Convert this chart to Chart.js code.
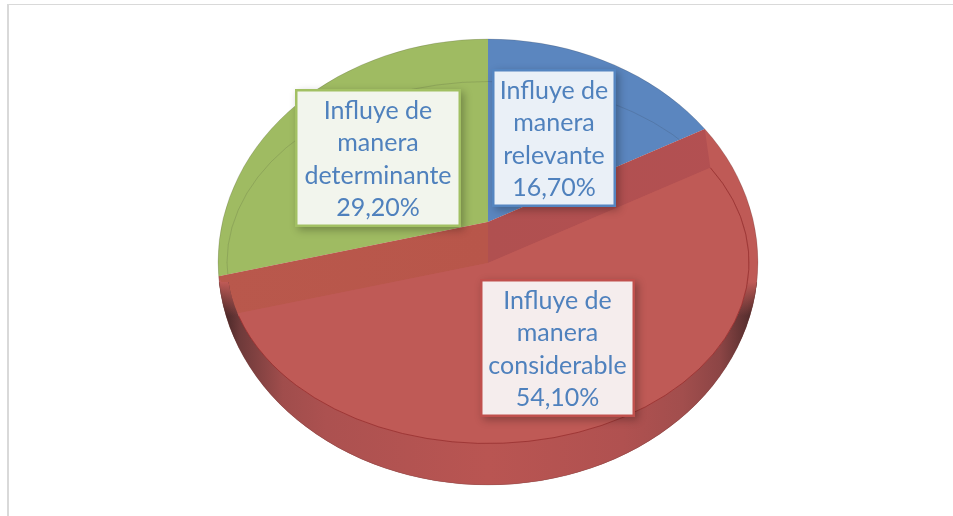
<!DOCTYPE html>
<html>
<head>
<meta charset="utf-8">
<script src="https://cdn.jsdelivr.net/npm/chart.js@4"></script>
<style>
    html, body { margin: 0; padding: 0; background: #fff; overflow: hidden; }
    #frame { position: absolute; left: 7px; top: 4px; right: 0; bottom: 0; border-left: 2px solid #d9d9d9; border-top: 1px solid #d9d9d9; }
    #chart { position: absolute; left: 0; top: 0; }
</style>
</head>
<body>
<div id="frame"></div>
<canvas id="chart" width="953" height="516"></canvas>
<script>
// Data
const categories = ['Influye de manera relevante', 'Influye de manera considerable', 'Influye de manera determinante'];
const values = [16.7, 54.1, 29.2];
const sliceColors = ['#5b86bf', '#bf5a56', '#9fbb62'];
const labelBorders = ['#5585c0', '#c0504d', '#a2c063'];
const labelFills = ['#eaf0f7', '#f5eded', '#f2f5ed'];

// Layout of the tilted disc, in canvas pixels
const CX = 488;
const TILT = 0.746;
const DRAW_RADIUS = 360;
const BACK_Y = 222;
const FRONT_Y = 263;
const OUTLINE = { cy: 262, rx: 270, ry: 223 };
const FACE = { cy: 262.5, rx: 261, ry: 181 };
const WALL_TOP = 282;
const WALL_FADE = 34;
const labelBoxes = [
    { left: 492, top: 69, right: 616, bottom: 207 },
    { left: 480, top: 279, right: 635, bottom: 417 },
    { left: 295, top: 89, right: 461, bottom: 227 }
];

function ellipsePath(ctx, e) {
    ctx.ellipse(CX, e.cy, e.rx, e.ry, 0, 0, Math.PI * 2);
}

function clipEllipse(ctx, e) {
    ctx.beginPath();
    ellipsePath(ctx, e);
    ctx.clip();
}

// Paint one library arc with its centre moved and squashed into the tilted view
function drawArcAt(ctx, arc, cy, color) {
    const s = DRAW_RADIUS / arc.outerRadius;
    const saved = arc.options;
    arc.options = Object.assign({}, saved, { backgroundColor: color, borderWidth: 0 });
    ctx.save();
    ctx.translate(CX, cy);
    ctx.scale(s, s * TILT);
    ctx.translate(-arc.x, -arc.y);
    arc.draw(ctx);
    ctx.restore();
    arc.options = saved;
}

// Where a slice edge leaving (CX, cy) at this angle meets an ellipse
function rimPoint(cy, angle, e) {
    const dx = Math.cos(angle);
    const dy = Math.sin(angle) * TILT;
    const off = cy - e.cy;
    const a = (dx * dx) / (e.rx * e.rx) + (dy * dy) / (e.ry * e.ry);
    const b = 2 * off * dy / (e.ry * e.ry);
    const c = (off * off) / (e.ry * e.ry) - 1;
    const t = (-b + Math.sqrt(b * b - 4 * a * c)) / (2 * a);
    return [CX + t * dx, cy + t * dy];
}

function bandGradient(ctx, arc) {
    const s = DRAW_RADIUS / arc.outerRadius;
    const g = ctx.createLinearGradient(arc.x - 270 / s, 0, arc.x + 270 / s, 0);
    g.addColorStop(0, '#b9584c');
    g.addColorStop(0.5, '#b8564a');
    g.addColorStop(0.5, '#b05050');
    g.addColorStop(1, '#b35052');
    return g;
}

function drawBand(ctx, red) {
    const corners = [
        [CX, BACK_Y],
        rimPoint(BACK_Y, red.startAngle, OUTLINE),
        rimPoint(FRONT_Y, red.startAngle, FACE),
        [CX, FRONT_Y],
        rimPoint(FRONT_Y, red.endAngle, FACE),
        rimPoint(BACK_Y, red.endAngle, OUTLINE)
    ];
    ctx.save();
    ctx.beginPath();
    corners.forEach((p, i) => (i ? ctx.lineTo(p[0], p[1]) : ctx.moveTo(p[0], p[1])));
    ctx.closePath();
    ctx.clip();
    drawArcAt(ctx, red, BACK_Y, bandGradient(ctx, red));
    ctx.restore();
}

function drawWall(ctx) {
    ctx.save();
    ctx.beginPath();
    ctx.rect(0, WALL_TOP, 953, 516 - WALL_TOP);
    ctx.clip();
    ctx.beginPath();
    ctx.rect(0, 0, 953, 516);
    ellipsePath(ctx, FACE);
    ctx.clip('evenodd');
    const g = ctx.createLinearGradient(CX - OUTLINE.rx, 0, CX + OUTLINE.rx, 0);
    g.addColorStop(0, '#3a2020');
    g.addColorStop(0.04, '#6e3a3a');
    g.addColorStop(0.12, '#a04d4c');
    g.addColorStop(0.2, '#ac5150');
    g.addColorStop(0.5, '#b95552');
    g.addColorStop(0.75, '#b05150');
    g.addColorStop(0.86, '#a24e4d');
    g.addColorStop(0.93, '#8c4545');
    g.addColorStop(0.98, '#5a3030');
    g.addColorStop(1, '#3a2020');
    ctx.fillStyle = g;
    ctx.fillRect(0, WALL_TOP, 953, 516 - WALL_TOP);

    // The dark sides fade out where the wall turns away at the top
    const fade = ctx.createLinearGradient(0, WALL_TOP, 0, WALL_TOP + WALL_FADE);
    fade.addColorStop(0, 'rgba(191,90,86,1)');
    fade.addColorStop(1, 'rgba(191,90,86,0)');
    ctx.fillStyle = fade;
    ctx.fillRect(0, WALL_TOP, 953, WALL_FADE);
    ctx.restore();
}

function drawLabels(ctx) {
    ctx.save();
    ctx.font = '25px Lato, sans-serif';
    ctx.textAlign = 'center';
    ctx.textBaseline = 'middle';
    categories.forEach((name, i) => {
        const b = labelBoxes[i];
        const words = name.split(' ');
        const lines = [words.slice(0, 2).join(' '), words[2], words[3],
            values[i].toFixed(2).replace('.', ',') + '%'];
        ctx.save();
        ctx.shadowColor = 'rgba(0,0,0,0.28)';
        ctx.shadowBlur = 8;
        ctx.shadowOffsetX = 3;
        ctx.shadowOffsetY = 3;
        ctx.fillStyle = labelBorders[i];
        ctx.fillRect(b.left, b.top, b.right - b.left, b.bottom - b.top);
        ctx.restore();
        ctx.fillStyle = labelFills[i];
        ctx.fillRect(b.left + 2.5, b.top + 2.5, b.right - b.left - 5, b.bottom - b.top - 5);
        ctx.fillStyle = '#4f81bd';
        const lineHeight = 32.6;
        const midX = (b.left + b.right) / 2;
        const firstY = (b.top + b.bottom) / 2 - lineHeight * 1.5 + 1.5;
        lines.forEach((line, j) => ctx.fillText(line, midX, firstY + j * lineHeight));
    });
    ctx.restore();
}

const tiltedPie = {
    id: 'tiltedPie',
    beforeDatasetsDraw(chart) {
        const ctx = chart.ctx;
        const [blue, red, green] = chart.getDatasetMeta(0).data;

        ctx.save();
        clipEllipse(ctx, OUTLINE);

        // Back disc: every slice from the upper vertex
        drawArcAt(ctx, blue, BACK_Y, sliceColors[0]);
        drawArcAt(ctx, green, BACK_Y, sliceColors[2]);
        drawArcAt(ctx, red, BACK_Y, sliceColors[1]);

        // Faint ring of the face seen through the back slices
        ctx.beginPath();
        ellipsePath(ctx, FACE);
        ctx.strokeStyle = 'rgba(40,40,40,0.18)';
        ctx.lineWidth = 0.8;
        ctx.stroke();

        drawBand(ctx, red);
        drawWall(ctx);

        // Red top face
        ctx.save();
        clipEllipse(ctx, FACE);
        drawArcAt(ctx, red, FRONT_Y, sliceColors[1]);
        ctx.restore();

        // Ring under the face, on the wall and on the outer red strip
        ctx.strokeStyle = 'rgba(150,45,45,0.75)';
        ctx.lineWidth = 1;
        ctx.beginPath();
        ctx.ellipse(CX, FACE.cy, FACE.rx, FACE.ry, 0, -0.55, Math.PI - 0.3);
        ctx.stroke();

        ctx.restore();

        // Thin outline of the whole disc
        ctx.beginPath();
        ellipsePath(ctx, OUTLINE);
        ctx.strokeStyle = 'rgba(60,50,50,0.22)';
        ctx.lineWidth = 0.8;
        ctx.stroke();

        drawLabels(ctx);
        return false;
    }
};

new Chart(document.getElementById('chart'), {
    type: 'pie',
    data: {
        labels: categories,
        datasets: [{ data: values, backgroundColor: sliceColors, borderWidth: 0 }]
    },
    options: {
        responsive: false,
        animation: false,
        rotation: 0,
        plugins: {
            legend: { display: false },
            tooltip: { enabled: false }
        }
    },
    plugins: [tiltedPie]
});
</script>
</body>
</html>
